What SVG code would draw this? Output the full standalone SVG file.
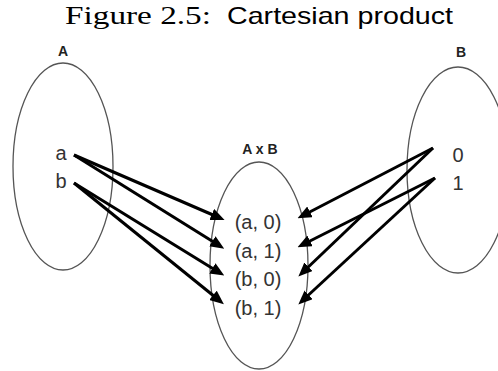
<svg xmlns="http://www.w3.org/2000/svg" width="498" height="371" viewBox="0 0 498 371">
  <style>
    .set { fill: none; stroke: #555; stroke-width: 1.3; }
    .lbl { font-family: "Liberation Sans", Arial, sans-serif; font-size: 20px; fill: #333; text-anchor: middle; }
    .name { font-family: "Liberation Sans", Arial, sans-serif; font-size: 14px; font-weight: bold; fill: #222; text-anchor: middle; }
    .arr { stroke: #000; stroke-width: 3; fill: none; marker-end: url(#head); }
  </style>
  <defs>
    <marker id="head" markerUnits="userSpaceOnUse" markerWidth="14" markerHeight="12" refX="9" refY="6" orient="auto" viewBox="0 0 14 12">
      <path d="M0,0 L14,6 L0,12 z" fill="#000"/>
    </marker>
  </defs>
  <rect width="498" height="371" fill="#fff"/>
  <g id="title">
    <text x="65" y="24" font-family="Liberation Serif, serif" font-size="25" fill="#000" textLength="146" lengthAdjust="spacingAndGlyphs">Figure 2.5:</text>
    <text x="227" y="24" font-family="Liberation Sans, sans-serif" font-size="24" fill="#000" textLength="226" lengthAdjust="spacingAndGlyphs">Cartesian product</text>
  </g>
  <g id="setA">
    <text class="name" x="63" y="56">A</text>
    <ellipse class="set" cx="63" cy="166.5" rx="50" ry="103.5"/>
    <text class="lbl" x="61" y="160">a</text>
    <text class="lbl" x="61" y="188">b</text>
  </g>
  <g id="setB">
    <text class="name" x="461" y="57">B</text>
    <ellipse class="set" cx="458" cy="170" rx="51" ry="103"/>
    <text class="lbl" x="458" y="162">0</text>
    <text class="lbl" x="458" y="190">1</text>
  </g>
  <g id="setAxB">
    <text class="name" x="260" y="154" font-size="15">A x B</text>
    <ellipse class="set" cx="259" cy="265.5" rx="49" ry="103.5"/>
    <text class="lbl" x="258" y="229">(a, 0)</text>
    <text class="lbl" x="258" y="257.5">(a, 1)</text>
    <text class="lbl" x="258" y="286">(b, 0)</text>
    <text class="lbl" x="258" y="314.5">(b, 1)</text>
  </g>
  <g id="connectors">
    <line class="arr" x1="74" y1="155" x2="220" y2="218"/>
    <line class="arr" x1="74" y1="155" x2="220" y2="246"/>
    <line class="arr" x1="74" y1="183" x2="220" y2="273"/>
    <line class="arr" x1="74" y1="183" x2="220" y2="301"/>
    <line class="arr" x1="433" y1="148" x2="302" y2="216"/>
    <line class="arr" x1="433" y1="148" x2="302" y2="273"/>
    <line class="arr" x1="435" y1="178" x2="302" y2="245"/>
    <line class="arr" x1="435" y1="178" x2="302" y2="301"/>
  </g>
</svg>
